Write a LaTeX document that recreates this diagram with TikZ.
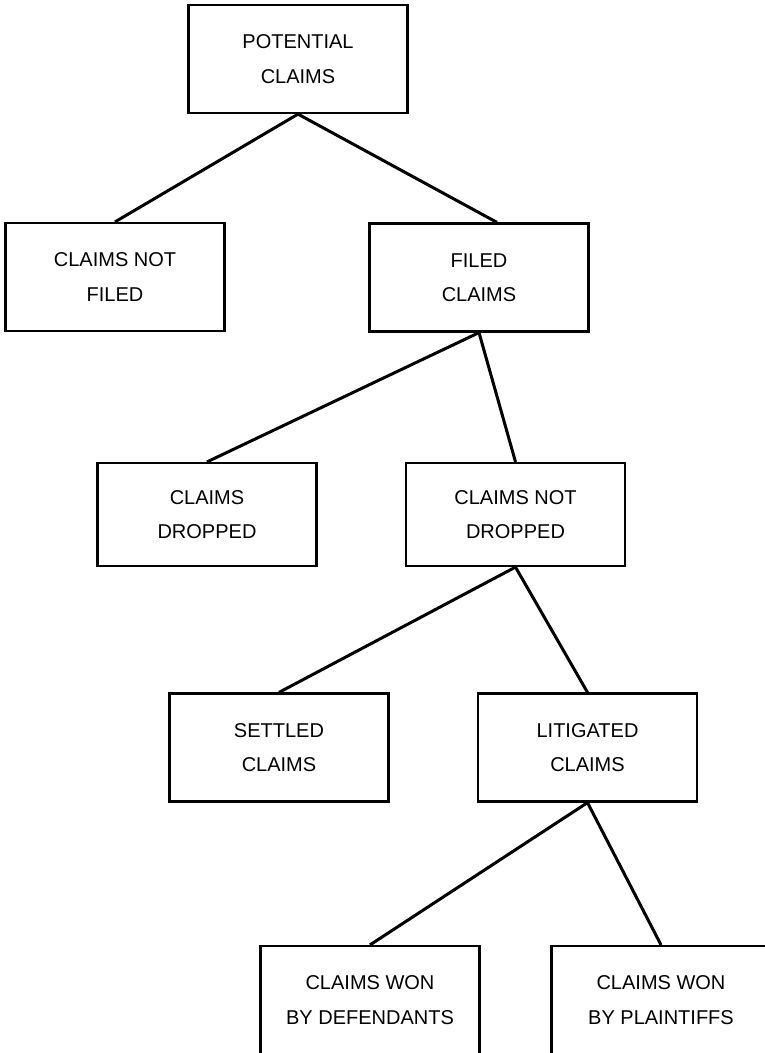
\documentclass[tikz,border=0pt]{standalone}
\usepackage{fontspec}
\setmainfont{Liberation Sans}
\begin{document}
\begin{tikzpicture}[x=1pt,y=-1pt,
        box/.style={draw, line width=2.2pt, minimum width=219pt, minimum height=108pt,
            align=center, inner sep=0pt, font=\fontsize{20}{34.5}\selectfont},
        link/.style={line width=3pt}]
        \useasboundingbox (0,0) rectangle (765,1053);

        \node[box] (potential) at (298,59) {POTENTIAL\\CLAIMS};
        \node[box] (notfiled) at (115,277) {CLAIMS NOT\\FILED};
        \node[box] (filed) at (479,277.5) {FILED\\CLAIMS};
        \node[box, minimum height=103pt] (dropped) at (207,514.5) {CLAIMS\\DROPPED};
        \node[box, minimum height=103pt] (notdropped) at (515.5,514.5) {CLAIMS NOT\\DROPPED};
        \node[box] (settled) at (279,747.5) {SETTLED\\CLAIMS};
        \node[box] (litigated) at (587.5,747.5) {LITIGATED\\CLAIMS};
        \node[box] (defendants) at (370,1000) {CLAIMS WON\\BY DEFENDANTS};
        \node[box] (plaintiffs) at (661,1000) {CLAIMS WON\\BY PLAINTIFFS};

        \draw[link] (potential.south) -- (notfiled.north);
        \draw[link] (potential.south) -- ([xshift=18pt]filed.north);
        \draw[link] (filed.south) -- (dropped.north);
        \draw[link] (filed.south) -- (notdropped.north);
        \draw[link] (notdropped.south) -- (settled.north);
        \draw[link] (notdropped.south) -- (litigated.north);
        \draw[link] (litigated.south) -- (defendants.north);
        \draw[link] (litigated.south) -- (plaintiffs.north);
    \end{tikzpicture}
\end{document}
